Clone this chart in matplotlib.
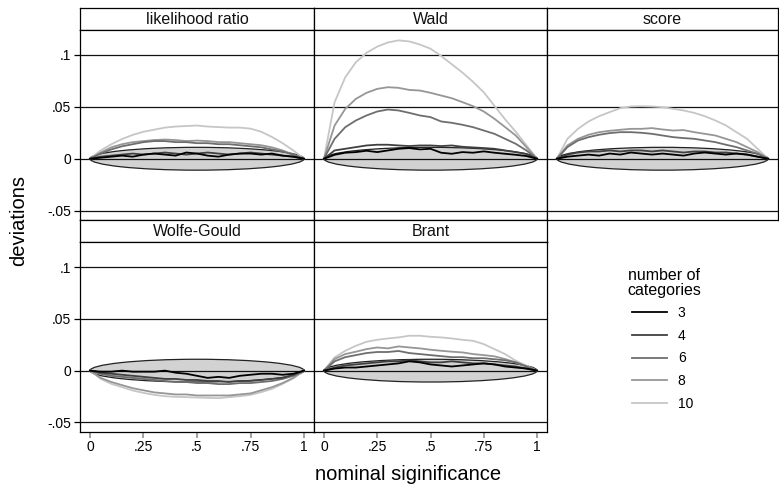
import matplotlib
matplotlib.use("Agg")
import matplotlib.pyplot as plt
from matplotlib.patches import Ellipse
from matplotlib.lines import Line2D

plt.rcParams['font.family'] = ['Liberation Sans', 'DejaVu Sans']

# ---------------- data ----------------
nominal = [0.00, 0.05, 0.10, 0.15, 0.20, 0.25, 0.30, 0.35, 0.40, 0.45, 0.50,
           0.55, 0.60, 0.65, 0.70, 0.75, 0.80, 0.85, 0.90, 0.95, 1.00]

categories = ["3", "4", "6", "8", "10"]
panel_titles = ["likelihood ratio", "Wald", "score", "Wolfe-Gould", "Brant"]
legend_title = "number of\ncategories"

lr_3 = [0, .001, .002, .003, .002, .004, .005, .004, .003, .006, .005, .003, .002, .004, .005, .005, .004, .005, .003, .002, 0]
lr_4 = [0, .002, .003, .004, .005, .004, .005, .006, .005, .004, .005, .006, .005, .004, .005, .006, .005, .004, .003, .002, 0]
lr_6 = [0, .005, .009, .012, .014, .016, .017, .017, .016, .016, .015, .015, .014, .014, .013, .012, .011, .009, .007, .004, 0]
lr_8 = [0, .006, .011, .014, .016, .017, .018, .0185, .018, .017, .0175, .017, .016, .016, .015, .014, .013, .011, .008, .004, 0]
lr_10 = [0, .008, .014, .019, .023, .026, .028, .030, .031, .0315, .032, .031, .0305, .030, .030, .029, .026, .021, .015, .008, 0]

wald_3 = [0, .0038, .0058, .0064, .0077, .0064, .0080, .0096, .0103, .0090, .0096, .0058, .0048, .0064, .0058, .0071, .0058, .0048, .0038, .0026, 0]
wald_4 = [0, .0080, .0096, .0112, .0128, .0135, .0135, .0128, .0122, .0128, .0128, .0122, .0128, .0115, .0109, .0103, .0096, .0080, .0064, .0045, 0]
wald_6 = [0, .0192, .0304, .0369, .0417, .0455, .0474, .0465, .0442, .0417, .0401, .0359, .0346, .0327, .0304, .0272, .0240, .0192, .0144, .0080, 0]
wald_8 = [0, .0320, .0480, .0577, .0635, .0673, .0689, .0683, .0663, .0657, .0635, .0609, .0583, .0545, .0506, .0455, .0385, .0305, .0224, .0112, 0]
wald_10 = [0, .0545, .0785, .0930, .1020, .1080, .1120, .1140, .1130, .1100, .1060, .0990, .0910, .0830, .0740, .0640, .0510, .0380, .0260, .0130, 0]

score_3 = [0, .002, .003, .004, .003, .005, .004, .006, .005, .004, .005, .004, .003, .005, .006, .005, .004, .005, .004, .002, 0]
score_4 = [0, .004, .006, .007, .007, .008, .007, .008, .008, .007, .008, .007, .006, .007, .007, .006, .006, .005, .004, .002, 0]
score_6 = [0, .0112, .0176, .0208, .0231, .0247, .0256, .0256, .0250, .0240, .0224, .0208, .0199, .0192, .0176, .0160, .0135, .0112, .0080, .0048, 0]
score_8 = [0, .0128, .0192, .0231, .0256, .0269, .0279, .0288, .0288, .0295, .0282, .0272, .0276, .0256, .0240, .0224, .0192, .0160, .0112, .0064, 0]
score_10 = [0, .0192, .0288, .0359, .0410, .0449, .0487, .0503, .0506, .0503, .0497, .0481, .0465, .0442, .0410, .0369, .0321, .0256, .0192, .0096, 0]

wg_3 = [0, -.001, -.001, .000, -.001, -.001, -.001, .000, -.002, -.003, -.005, -.007, -.006, -.007, -.005, -.004, -.003, -.003, -.004, -.003, 0]
wg_4 = [0, -.002, -.003, -.004, -.005, -.006, -.007, -.008, -.008, -.009, -.009, -.010, -.010, -.011, -.010, -.010, -.009, -.008, -.007, -.004, 0]
wg_6 = [0, -.003, -.005, -.006, -.007, -.008, -.009, -.010, -.011, -.011, -.012, -.012, -.013, -.013, -.012, -.012, -.011, -.010, -.008, -.005, 0]
wg_8 = [0, -.007, -.011, -.014, -.017, -.019, -.021, -.022, -.023, -.023, -.024, -.024, -.024, -.024, -.023, -.022, -.019, -.016, -.012, -.007, 0]
wg_10 = [0, -.0080, -.0128, -.0160, -.0192, -.0215, -.0234, -.0247, -.0253, -.0256, -.0260, -.0263, -.0266, -.0256, -.0247, -.0234, -.0208, -.0176, -.0128, -.0074, 0]

brant_3 = [0, .002, .003, .003, .004, .005, .006, .007, .009, .008, .006, .005, .004, .005, .006, .007, .006, .004, .003, .002, 0]
brant_4 = [0, .003, .005, .006, .007, .008, .009, .009, .010, .009, .008, .008, .009, .008, .007, .007, .006, .005, .004, .002, 0]
brant_6 = [0, .009, .013, .015, .017, .018, .018, .019, .017, .016, .015, .014, .013, .013, .012, .012, .011, .010, .008, .004, 0]
brant_8 = [0, .0112, .0160, .0183, .0208, .0224, .0215, .0234, .0224, .0215, .0202, .0192, .0183, .0176, .0160, .0150, .0138, .0112, .0080, .0042, 0]
brant_10 = [0, .0128, .0192, .0240, .0279, .0298, .0311, .0321, .0337, .0337, .0327, .0321, .0311, .0298, .0288, .0256, .0208, .0160, .0096, .0048, 0]

# half-width of the null band at nominal = .5
band_half = 0.011

y_ticks = [-0.05, 0, 0.05, 0.1]
y_tick_labels = ["-.05", "0", ".05", ".1"]
x_ticks = [0, 0.25, 0.5, 0.75, 1]
x_tick_labels = ["0", ".25", ".5", ".75", "1"]

panels = [
    [lr_3, lr_4, lr_6, lr_8, lr_10],
    [wald_3, wald_4, wald_6, wald_8, wald_10],
    [score_3, score_4, score_6, score_8, score_10],
    [wg_3, wg_4, wg_6, wg_8, wg_10],
    [brant_3, brant_4, brant_6, brant_8, brant_10],
]

# ---------------- style ----------------
colors = ['#000000', '#404040', '#6e6e6e', '#969696', '#c6c6c6']
W, H = 779, 484
fig = plt.figure(figsize=(W / 100, H / 100), dpi=100)

col_x = [(80, 314), (314, 547), (547, 778)]
row_y = [(8, 30, 220), (220, 242.3, 431.7)]  # strip top, plot top, plot bottom


def fr(x0, x1, ytop, ybot):
    return [x0 / W, 1 - ybot / H, (x1 - x0) / W, (ybot - ytop) / H]


ylim = (-0.059, 0.124)
xlim = (-0.0467, 1.0467)
for i, series in enumerate(panels):
    r, c = divmod(i, 3)
    x0, x1 = col_x[c]
    st, pt, pb = row_y[r]
    # strip
    sax = fig.add_axes(fr(x0, x1, st, pt))
    sax.set_xticks([]); sax.set_yticks([])
    sax.set_facecolor('white')
    for s in sax.spines.values():
        s.set_color('#000000'); s.set_linewidth(0.9)
    sax.text(0.5, 0.47, panel_titles[i], ha='center', va='center',
             fontsize=11.5, color='#111111', transform=sax.transAxes)
    # plot
    ax = fig.add_axes(fr(x0, x1, pt, pb))
    ax.set_xlim(*xlim); ax.set_ylim(*ylim)
    for s in ax.spines.values():
        s.set_color('#000000'); s.set_linewidth(0.9)
    ell = Ellipse((0.5, 0), width=1.0, height=2 * band_half,
                  facecolor='#d2d2d2', edgecolor='#222222', linewidth=0.9, zorder=2)
    ax.add_patch(ell)
    for yv in y_ticks:
        ax.axhline(yv, color='#111111', lw=0.9, zorder=2.5)
    for k in range(len(categories) - 1, -1, -1):
        ax.plot(nominal, series[k], color=colors[k], lw=1.3, zorder=3 + (5 - k) * 0.1)
    ax.set_yticks(y_ticks)
    ax.set_xticks(x_ticks)
    if c == 0:
        ax.set_yticklabels(y_tick_labels, fontsize=10)
        ax.tick_params(axis='y', length=4.5, width=0.9, color='#000000', pad=2)
    else:
        ax.tick_params(axis='y', length=0, labelleft=False)
    if r == 1:
        ax.set_xticklabels(x_tick_labels, fontsize=10)
        ax.tick_params(axis='x', length=4, width=1.2, color='#909090', pad=2)
    else:
        ax.tick_params(axis='x', length=0, labelbottom=False)

fig.text(408.5 / W, 1 - 480 / H, "nominal siginificance", ha='center', va='baseline', fontsize=14.5)
fig.text(19 / W, 1 - 220 / H, "deviations", ha='center', va='center', rotation=90, fontsize=14.5)

# legend title (two centred lines)
fig.text(664 / W, 1 - 268 / H, legend_title, ha='center', va='top',
         multialignment='center', fontsize=11.5, linespacing=1.0)

leg_handles = [Line2D([], [], color=colors[k], lw=1.3) for k in range(len(categories))]
leg = fig.legend(leg_handles, categories,
                 loc='center left', bbox_to_anchor=(632 / W, 1 - 358.5 / H),
                 frameon=False, fontsize=10, borderpad=0, borderaxespad=0,
                 handlelength=2.5, handletextpad=0.8, labelspacing=0.62)

fig.savefig("out.png", dpi=100)
